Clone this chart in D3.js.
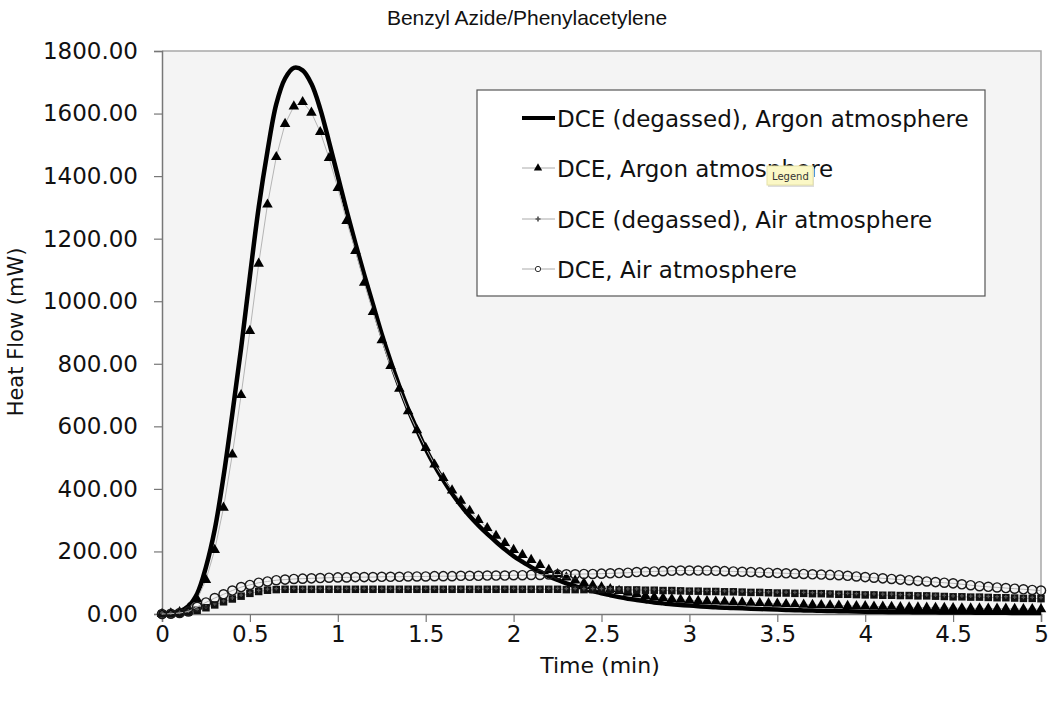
<!DOCTYPE html>
<html>
<head>
<meta charset="utf-8">
<script src="https://cdn.jsdelivr.net/npm/d3@7"></script>
<style>
  body { margin: 0; background: #fff; }
  svg { display: block; font-family: "DejaVu Sans", sans-serif; }
</style>
</head>
<body>
<div id="chart"></div>
<script>
// sample times (min), every 0.05
const times = [0,0.05,0.1,0.15,0.2,0.25,0.3,0.35,0.4,0.45,0.5,0.55,0.6,0.65,0.7,0.75,0.8,0.85,0.9,0.95,
  1,1.05,1.1,1.15,1.2,1.25,1.3,1.35,1.4,1.45,1.5,1.55,1.6,1.65,1.7,1.75,1.8,1.85,1.9,1.95,
  2,2.05,2.1,2.15,2.2,2.25,2.3,2.35,2.4,2.45,2.5,2.55,2.6,2.65,2.7,2.75,2.8,2.85,2.9,2.95,
  3,3.05,3.1,3.15,3.2,3.25,3.3,3.35,3.4,3.45,3.5,3.55,3.6,3.65,3.7,3.75,3.8,3.85,3.9,3.95,
  4,4.05,4.1,4.15,4.2,4.25,4.3,4.35,4.4,4.45,4.5,4.55,4.6,4.65,4.7,4.75,4.8,4.85,4.9,4.95,5];

// DCE (degassed), Argon atmosphere
const degassedArgon = [0,2,8,25,65,150,270,440,640,850,1080,1300,1480,1630,1712,1746,1738,1695,1615,1510,
  1400,1290,1185,1085,990,895,808,728,655,590,528,475,428,385,347,313,283,256,231,207,
  185,167,150,135,121,109,98,89,80,73,66,60,54,49,45,41,37,34,31,29,
  27,25,23,21.5,20,19,18,17,16,15,14,13,12,11.5,11,10,9.5,9,8.5,8,
  7.5,7,6.8,6.5,6.2,6,5.8,5.5,5.3,5,4.8,4.6,4.4,4.2,4,3.8,3.6,3.5,3.4,3.3,3.2];

// DCE, Argon atmosphere
const dceArgon = [0,2,6,18,47,109,205,340,510,700,905,1120,1309,1461,1567,1623,1637,1603,1541,1458,
  1362,1257,1161,1059,966,875,793,720,648,588,531,478,435,395,362,330,301,275,250,227,
  205,189,173,157,141,128,117,107,99,92,86,80,74,68,63,58,54,51,48,46,
  44,42,41,40,39,38,37,36,35,34,33,32,31,30,29,28.5,28,27,26,25.5,
  25,24,23.5,23,22,21.5,21,20.5,20,19.5,19,18.5,18,18,17.5,17,17,16.5,16,16,15.5];

// DCE (degassed), Air atmosphere
const degassedAir = [0,0,2,6,12,20,29,39,48,57,66,72,76,78,79,79,79,79,79,79,
  79,79,79,79,79,79,79,79,79,79,79,79,79,79,79,79,79,79,79,79,
  79,79,79,79,79,79,78,78,78,78,78,78,77,77,77,76,76,75,75,74,
  73,73,72,72,71,71,70,69,69,68,67,67,66,66,65,65,64,63,63,62,
  61,61,60,60,59,59,58,58,57,56,55,55,54,54,53,52,52,51,50,50,49];

// DCE, Air atmosphere
const dceAir = [0,1,3,8,23,37,51,63,75,86,93,100,104,108,110,112,113,114,115,116,
  117,117,118,118,118,119,119,119,120,120,120,121,121,121,122,122,122,123,123,123,
  124,124,125,125,126,126,127,127,128,128,129,130,131,132,134,135,136,137,138,139,
  139,139,139,138,137,136,135,134,133,132,131,130,129,128,127,126,125,124,122,120,
  118,116,114,112,110,108,106,104,102,100,98,95,92,89,87,85,83,81,79,77,75];

const seriesNames = ["DCE (degassed), Argon atmosphere", "DCE, Argon atmosphere",
  "DCE (degassed), Air atmosphere", "DCE, Air atmosphere"];
const xTicks = [0,0.5,1,1.5,2,2.5,3,3.5,4,4.5,5];
const yTicks = [0,200,400,600,800,1000,1200,1400,1600,1800];

const W = 1050, H = 711;
const svg = d3.select("#chart").append("svg").attr("width", W).attr("height", H);

const x = d3.scaleLinear().domain([0, 5]).range([162, 1041]);
const y = d3.scaleLinear().domain([0, 1800]).range([614, 51]);

// plot area
svg.append("rect")
  .attr("x", x(0)).attr("y", y(1800))
  .attr("width", x(5) - x(0)).attr("height", y(0) - y(1800))
  .attr("fill", "#f4f4f4");
svg.append("path")
  .attr("d", `M${x(0)},${y(1800)}H${x(5)}V${y(0)}`)
  .attr("fill", "none").attr("stroke", "#a8a8a8").attr("stroke-width", 1.5);

// axes
const yAxis = svg.append("g").attr("transform", `translate(${x(0)},0)`)
  .call(d3.axisLeft(y).tickValues(yTicks).tickFormat(d3.format(".2f")).tickSize(8).tickPadding(16));
const xAxis = svg.append("g").attr("transform", `translate(0,${y(0)})`)
  .call(d3.axisBottom(x).tickValues(xTicks).tickFormat(d => String(d)).tickSize(8).tickPadding(4));
[yAxis, xAxis].forEach(g => {
  g.select(".domain").attr("stroke", "#777").attr("stroke-width", 1.5);
  g.selectAll(".tick line").attr("stroke", "#777").attr("stroke-width", 1.2);
  g.selectAll(".tick text").attr("font-size", 23).attr("fill", "#111")
    .attr("font-family", "DejaVu Sans");
});

// titles
svg.append("text").attr("x", 527).attr("y", 25).attr("text-anchor", "middle")
  .attr("font-size", 21).attr("font-family", "Liberation Sans").attr("fill", "#111")
  .text("Benzyl Azide/Phenylacetylene");
svg.append("text").attr("x", 600).attr("y", 673).attr("text-anchor", "middle")
  .attr("font-size", 22).attr("fill", "#111").text("Time (min)");
svg.append("text").attr("transform", "translate(23,332) rotate(-90)").attr("text-anchor", "middle")
  .attr("font-size", 21).attr("fill", "#111").text("Heat Flow (mW)");

const plot = svg.append("g");

// thick series
plot.append("path").datum(degassedArgon)
  .attr("d", d3.line().x((d, i) => x(times[i])).y(d => y(d)).curve(d3.curveCatmullRom))
  .attr("fill", "none").attr("stroke", "#000").attr("stroke-width", 4.5);

const markerSeries = [
  {values: dceArgon, sym: d3.symbolTriangle, size: 48, fill: "#000", stroke: "none"},
  {values: degassedAir, sym: d3.symbolSquare, size: 56, fill: "#111", stroke: "none", plus: true},
  {values: dceAir, sym: d3.symbolCircle, size: 66, fill: "none", stroke: "#1a1a1a"}
];

markerSeries.forEach(s => {
  plot.append("path").datum(s.values)
    .attr("d", d3.line().x((d, i) => x(times[i])).y(d => y(d)))
    .attr("fill", "none").attr("stroke", "#b5b5b5").attr("stroke-width", 1);
  const g = plot.append("g");
  g.selectAll("path").data(s.values).join("path")
    .attr("transform", (d, i) => `translate(${x(times[i])},${y(d)})`)
    .attr("d", d3.symbol(s.sym, s.size))
    .attr("fill", s.fill).attr("stroke", s.stroke).attr("stroke-width", 1.4);
  if (s.plus) {
    g.selectAll("path.plus").data(s.values).join("path").attr("class", "plus")
      .attr("transform", (d, i) => `translate(${x(times[i])},${y(d) - 1})`)
      .attr("d", d3.symbol(d3.symbolCross, 8))
      .attr("fill", "#555");
  }
});

// legend
const legend = svg.append("g");
legend.append("rect").attr("x", 477).attr("y", 90).attr("width", 508).attr("height", 206)
  .attr("fill", "#fff").attr("stroke", "#555").attr("stroke-width", 1.2);
const rowY = [118, 168, 219, 269];
const legendMarks = [null, d3.symbolTriangle, d3.symbolCross, d3.symbolCircle];
const legendSizes = [0, 30, 14, 22];
seriesNames.forEach((name, i) => {
  const yy = rowY[i];
  legend.append("line").attr("x1", 522).attr("x2", 555).attr("y1", yy).attr("y2", yy)
    .attr("stroke", i === 0 ? "#000" : "#aaa").attr("stroke-width", i === 0 ? 4 : 1);
  if (legendMarks[i]) {
    legend.append("path").attr("transform", `translate(538,${yy})`)
      .attr("d", d3.symbol(legendMarks[i], legendSizes[i]))
      .attr("fill", i === 3 ? "#fff" : (i === 2 ? "#555" : "#000"))
      .attr("stroke", i === 3 ? "#333" : "none").attr("stroke-width", 1);
  }
  legend.append("text").attr("x", 557).attr("y", yy + 9)
    .attr("font-size", 23).attr("fill", "#111").text(name);
});

// tooltip left over in the screenshot
const tip = svg.append("g").attr("transform", "translate(767,166)");
tip.append("rect").attr("x", 1).attr("y", 1).attr("width", 46).attr("height", 20).attr("fill", "#ddd");
tip.append("rect").attr("width", 46).attr("height", 19).attr("fill", "#fbf8c6").attr("stroke", "#e6e2a8");
tip.append("text").attr("x", 5).attr("y", 14).attr("font-size", 10).attr("fill", "#333").text("Legend");
</script>
</body>
</html>
